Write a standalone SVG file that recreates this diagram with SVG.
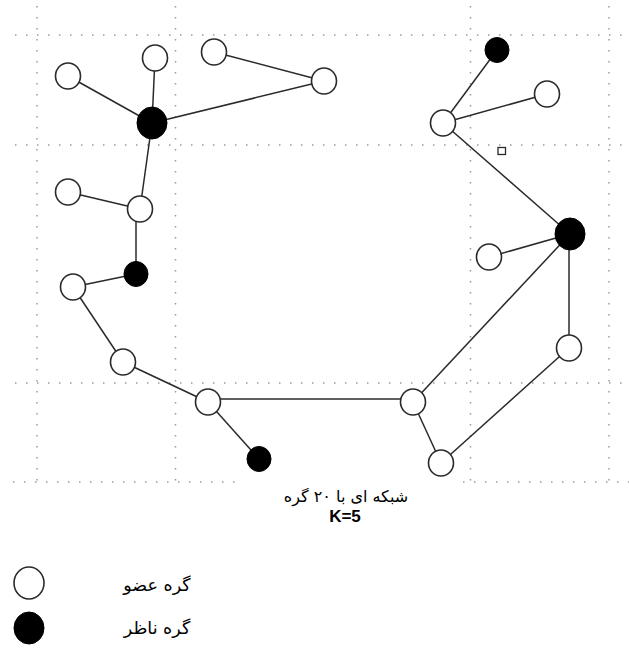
<svg xmlns="http://www.w3.org/2000/svg" width="629" height="651" viewBox="0 0 629 651">
<style>
.grid{stroke:#9a9a9a;stroke-width:1.5;stroke-dasharray:1.5 9.5;fill:none}
.edge{stroke:#2a2a2a;stroke-width:1.5;fill:none}
.w{fill:#fff;stroke:#2a2a2a;stroke-width:1.6}
.b{fill:#000;stroke:#000;stroke-width:1}
.fa{font-family:"DejaVu Sans","Noto Sans",sans-serif;fill:#000}
.t{font-size:16px}
.l{font-size:17.5px}
.k{font-family:"Liberation Sans",Arial,sans-serif;font-size:17px;font-weight:bold;fill:#000}
</style>
<rect width="629" height="651" fill="#fff"/>
<g id="grid">
<line class="grid" x1="15" y1="35" x2="629" y2="35"/>
<line class="grid" x1="15" y1="145" x2="629" y2="145"/>
<line class="grid" x1="15" y1="383" x2="629" y2="383"/>
<line class="grid" x1="13" y1="482" x2="238" y2="482"/>
<line class="grid" x1="463" y1="482" x2="629" y2="482"/>
<line class="grid" x1="37" y1="6" x2="37" y2="490"/>
<line class="grid" x1="175.5" y1="6" x2="175.5" y2="490"/>
<line class="grid" x1="470.5" y1="6" x2="470.5" y2="490"/>
<line class="grid" x1="609" y1="6" x2="609" y2="490"/>
</g>
<g id="connectors">
<line class="edge" x1="68" y1="76" x2="152" y2="123"/>
<line class="edge" x1="155" y1="58" x2="152" y2="123"/>
<line class="edge" x1="152" y1="123" x2="324" y2="81"/>
<line class="edge" x1="214" y1="52" x2="324" y2="81"/>
<line class="edge" x1="152" y1="123" x2="140" y2="209"/>
<line class="edge" x1="68" y1="192" x2="140" y2="209"/>
<line class="edge" x1="136" y1="209" x2="136" y2="274"/>
<line class="edge" x1="136" y1="274" x2="73" y2="287"/>
<line class="edge" x1="73" y1="287" x2="123" y2="362"/>
<line class="edge" x1="123" y1="362" x2="208" y2="402"/>
<line class="edge" x1="208" y1="402" x2="259" y2="459"/>
<line class="edge" x1="208" y1="399" x2="413" y2="399"/>
<line class="edge" x1="413" y1="402" x2="570" y2="234"/>
<line class="edge" x1="413" y1="402" x2="441" y2="463"/>
<line class="edge" x1="441" y1="463" x2="569" y2="348"/>
<line class="edge" x1="569" y1="348" x2="569" y2="234"/>
<line class="edge" x1="489" y1="257" x2="570" y2="234"/>
<line class="edge" x1="570" y1="234" x2="443" y2="123"/>
<line class="edge" x1="443" y1="123" x2="497" y2="50"/>
<line class="edge" x1="443" y1="123" x2="547" y2="94"/>
</g>
<g id="n1"><ellipse class="w" cx="68" cy="76" rx="12.5" ry="13"/></g>
<g id="n2"><ellipse class="w" cx="155" cy="58" rx="12.5" ry="13"/></g>
<g id="n3"><ellipse class="b" cx="152" cy="123" rx="15" ry="16"/></g>
<g id="n4"><ellipse class="w" cx="214" cy="52" rx="12.5" ry="13"/></g>
<g id="n5"><ellipse class="w" cx="324" cy="81" rx="12.5" ry="13"/></g>
<g id="n6"><ellipse class="w" cx="68" cy="192" rx="12.5" ry="13"/></g>
<g id="n7"><ellipse class="w" cx="140" cy="209" rx="12.5" ry="13"/></g>
<g id="n8"><ellipse class="b" cx="136" cy="274" rx="12" ry="12.5"/></g>
<g id="n9"><ellipse class="w" cx="73" cy="287" rx="12.5" ry="13"/></g>
<g id="n10"><ellipse class="w" cx="123" cy="362" rx="12.5" ry="13"/></g>
<g id="n11"><ellipse class="w" cx="208" cy="402" rx="12.5" ry="13"/></g>
<g id="n12"><ellipse class="b" cx="259" cy="459" rx="12" ry="12.5"/></g>
<g id="n13"><ellipse class="w" cx="413" cy="402" rx="12.5" ry="13"/></g>
<g id="n14"><ellipse class="w" cx="441" cy="463" rx="12.5" ry="13"/></g>
<g id="n15"><ellipse class="w" cx="569" cy="348" rx="12.5" ry="13"/></g>
<g id="n16"><ellipse class="w" cx="489" cy="257" rx="12.5" ry="13"/></g>
<g id="n17"><ellipse class="b" cx="570" cy="234" rx="15" ry="16"/></g>
<g id="n18"><ellipse class="b" cx="497" cy="50" rx="12" ry="12.5"/></g>
<g id="n19"><ellipse class="w" cx="547" cy="94" rx="12.5" ry="13"/></g>
<g id="n20"><ellipse class="w" cx="443" cy="123" rx="12.5" ry="13"/></g>
<g id="marker-square"><rect x="498" y="147.5" width="7.5" height="7" fill="#fff" stroke="#2a2a2a" stroke-width="1.3"/></g>
<g id="title">
<text class="fa t" x="346" y="502" text-anchor="middle" direction="rtl">شبکه ای با ۲۰ گره</text>
<text class="k" x="345" y="522" text-anchor="middle">K=5</text>
</g>
<g id="legend">
<ellipse class="w" cx="29" cy="583" rx="15" ry="16"/>
<ellipse class="b" cx="29" cy="628" rx="15" ry="16"/>
<text class="fa l" x="157" y="591" text-anchor="middle" direction="rtl">گره عضو</text>
<text class="fa l" x="157" y="634" text-anchor="middle" direction="rtl">گره ناظر</text>
</g>
</svg>
